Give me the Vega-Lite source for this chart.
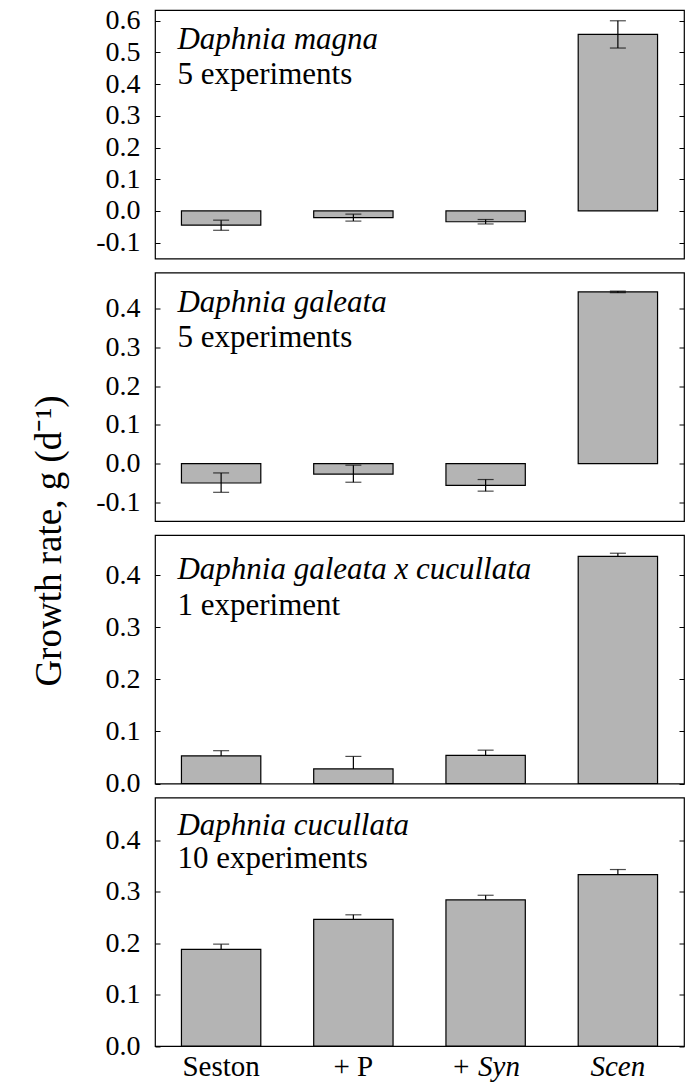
{
  "$schema": "https://vega.github.io/schema/vega-lite/v6.json",
  "padding": {"left": 29, "top": 6, "right": 5, "bottom": 5},
  "bounds": "flush",
  "spacing": 13.5,
  "config": {
    "font": "Liberation Serif",
    "view": {"stroke": "black", "strokeWidth": 1.2},
    "axis": {"labelFont": "Liberation Serif", "labelFontWeight": "normal", "titleFont": "Liberation Serif", "labelColor": "black", "tickColor": "black", "titleColor": "black"},
    "text": {"color": "black", "font": "Liberation Serif", "fontWeight": "normal"}
  },
  "datasets": {
    "bars": [
      {"panel": "magna", "treatment": "Seston", "g": -0.045, "lo": -0.061, "hi": -0.029},
      {"panel": "magna", "treatment": "+ P", "g": -0.021, "lo": -0.032, "hi": -0.010},
      {"panel": "magna", "treatment": "+ Syn", "g": -0.034, "lo": -0.041, "hi": -0.027},
      {"panel": "magna", "treatment": "Scen", "g": 0.557, "lo": 0.514, "hi": 0.600},
      {"panel": "galeata", "treatment": "Seston", "g": -0.050, "lo": -0.074, "hi": -0.024},
      {"panel": "galeata", "treatment": "+ P", "g": -0.027, "lo": -0.048, "hi": -0.004},
      {"panel": "galeata", "treatment": "+ Syn", "g": -0.056, "lo": -0.071, "hi": -0.041},
      {"panel": "galeata", "treatment": "Scen", "g": 0.443, "lo": 0.441, "hi": 0.445},
      {"panel": "hybrid", "treatment": "Seston", "g": 0.053, "lo": 0.043, "hi": 0.063},
      {"panel": "hybrid", "treatment": "+ P", "g": 0.028, "lo": 0.004, "hi": 0.052},
      {"panel": "hybrid", "treatment": "+ Syn", "g": 0.054, "lo": 0.044, "hi": 0.064},
      {"panel": "hybrid", "treatment": "Scen", "g": 0.436, "lo": 0.430, "hi": 0.442},
      {"panel": "cucullata", "treatment": "Seston", "g": 0.188, "lo": 0.178, "hi": 0.198},
      {"panel": "cucullata", "treatment": "+ P", "g": 0.246, "lo": 0.237, "hi": 0.255},
      {"panel": "cucullata", "treatment": "+ Syn", "g": 0.284, "lo": 0.275, "hi": 0.293},
      {"panel": "cucullata", "treatment": "Scen", "g": 0.333, "lo": 0.323, "hi": 0.343}
    ],
    "notes": [
      {"panel": "magna", "species": "Daphnia magna", "count": "5 experiments"},
      {"panel": "galeata", "species": "Daphnia galeata", "count": "5 experiments"},
      {"panel": "hybrid", "species": "Daphnia galeata x cucullata", "count": "1 experiment"},
      {"panel": "cucullata", "species": "Daphnia cucullata", "count": "10 experiments"}
    ]
  },
  "vconcat": [
    {
      "width": 529, "height": 248.5,
      "resolve": {"axis": {"y": "independent"}},
      "layer": [
        {
          "data": {"name": "bars"},
          "transform": [{"filter": "datum.panel == 'magna'"}],
          "mark": {"type": "bar", "fill": "#b4b4b4", "stroke": "black", "strokeWidth": 1.2},
          "encoding": {
            "x": {"field": "treatment", "type": "nominal", "sort": ["Seston", "+ P", "+ Syn", "Scen"], "scale": {"paddingInner": 0.4, "paddingOuter": 0.2}, "axis": null},
            "y": {"field": "g", "type": "quantitative", "scale": {"domain": [-0.15, 0.634], "nice": false, "zero": false},
              "axis": {"values": [-0.1, 0, 0.1, 0.2, 0.3, 0.4, 0.5, 0.6], "labelExpr": "replace(format(datum.value, '.1f'), '−', '-')", "tickSize": -5, "labelPadding": 20, "domain": false, "grid": false, "title": null, "labelFontSize": 28}}
          }
        },
        {
          "mark": {"type": "rule", "color": "black", "strokeWidth": 1.2},
          "encoding": {"y": {"datum": 0, "type": "quantitative", "axis": null}}
        },
        {
          "data": {"name": "bars"},
          "transform": [{"filter": "datum.panel == 'magna'"}],
          "mark": {"type": "rule", "color": "black", "strokeWidth": 1.2},
          "encoding": {
            "x": {"field": "treatment", "type": "nominal", "sort": ["Seston", "+ P", "+ Syn", "Scen"], "axis": null},
            "y": {"field": "lo", "type": "quantitative", "axis": {"orient": "right", "values": [-0.1, 0, 0.1, 0.2, 0.3, 0.4, 0.5, 0.6], "labels": false, "tickSize": -5, "domain": false, "grid": false, "title": null}},
            "y2": {"field": "hi"}
          }
        },
        {
          "data": {"name": "bars"},
          "transform": [{"filter": "datum.panel == 'magna'"}],
          "mark": {"type": "tick", "color": "black", "size": 16, "thickness": 1.2},
          "encoding": {
            "x": {"field": "treatment", "type": "nominal", "sort": ["Seston", "+ P", "+ Syn", "Scen"], "axis": null},
            "y": {"field": "hi", "type": "quantitative", "axis": null}
          }
        },
        {
          "data": {"name": "bars"},
          "transform": [{"filter": "datum.panel == 'magna'"}],
          "mark": {"type": "tick", "color": "black", "size": 16, "thickness": 1.2},
          "encoding": {
            "x": {"field": "treatment", "type": "nominal", "sort": ["Seston", "+ P", "+ Syn", "Scen"], "axis": null},
            "y": {"field": "lo", "type": "quantitative", "axis": null}
          }
        },
        {
          "data": {"name": "notes"},
          "transform": [{"filter": "datum.panel == 'magna'"}],
          "mark": {"type": "text", "align": "left", "baseline": "alphabetic", "fontSize": 31, "fontStyle": "italic", "dx": -4},
          "encoding": {
            "x": {"datum": "Seston", "type": "nominal", "bandPosition": 0, "axis": null},
            "y": {"datum": 0.51, "type": "quantitative", "axis": null},
            "text": {"field": "species"}
          }
        },
        {
          "data": {"name": "notes"},
          "transform": [{"filter": "datum.panel == 'magna'"}],
          "mark": {"type": "text", "align": "left", "baseline": "alphabetic", "fontSize": 31, "dx": -4},
          "encoding": {
            "x": {"datum": "Seston", "type": "nominal", "bandPosition": 0, "axis": null},
            "y": {"datum": 0.40, "type": "quantitative", "axis": null},
            "text": {"field": "count"}
          }
        }
      ]
    },
    {
      "width": 529, "height": 248.5,
      "resolve": {"axis": {"y": "independent"}},
      "layer": [
        {
          "data": {"name": "bars"},
          "transform": [{"filter": "datum.panel == 'galeata'"}],
          "mark": {"type": "bar", "fill": "#b4b4b4", "stroke": "black", "strokeWidth": 1.2},
          "encoding": {
            "x": {"field": "treatment", "type": "nominal", "sort": ["Seston", "+ P", "+ Syn", "Scen"], "scale": {"paddingInner": 0.4, "paddingOuter": 0.2}, "axis": null},
            "y": {"field": "g", "type": "quantitative", "scale": {"domain": [-0.148, 0.493], "nice": false, "zero": false},
              "axis": {"values": [-0.1, 0, 0.1, 0.2, 0.3, 0.4], "labelExpr": "replace(format(datum.value, '.1f'), '−', '-')", "tickSize": -5, "labelPadding": 20, "domain": false, "grid": false, "labelFontSize": 28,
                "title": "Growth rate, g (d⁻¹)", "titleFontSize": 37, "titleFontWeight": "normal", "titleAngle": -90, "titleX": -95, "titleY": 268, "titleAlign": "center", "titleBaseline": "alphabetic"}}
          }
        },
        {
          "mark": {"type": "rule", "color": "black", "strokeWidth": 1.2},
          "encoding": {"y": {"datum": 0, "type": "quantitative", "axis": null}}
        },
        {
          "data": {"name": "bars"},
          "transform": [{"filter": "datum.panel == 'galeata'"}],
          "mark": {"type": "rule", "color": "black", "strokeWidth": 1.2},
          "encoding": {
            "x": {"field": "treatment", "type": "nominal", "sort": ["Seston", "+ P", "+ Syn", "Scen"], "axis": null},
            "y": {"field": "lo", "type": "quantitative", "axis": {"orient": "right", "values": [-0.1, 0, 0.1, 0.2, 0.3, 0.4], "labels": false, "tickSize": -5, "domain": false, "grid": false, "title": null}},
            "y2": {"field": "hi"}
          }
        },
        {
          "data": {"name": "bars"},
          "transform": [{"filter": "datum.panel == 'galeata'"}],
          "mark": {"type": "tick", "color": "black", "size": 16, "thickness": 1.2},
          "encoding": {
            "x": {"field": "treatment", "type": "nominal", "sort": ["Seston", "+ P", "+ Syn", "Scen"], "axis": null},
            "y": {"field": "hi", "type": "quantitative", "axis": null}
          }
        },
        {
          "data": {"name": "bars"},
          "transform": [{"filter": "datum.panel == 'galeata'"}],
          "mark": {"type": "tick", "color": "black", "size": 16, "thickness": 1.2},
          "encoding": {
            "x": {"field": "treatment", "type": "nominal", "sort": ["Seston", "+ P", "+ Syn", "Scen"], "axis": null},
            "y": {"field": "lo", "type": "quantitative", "axis": null}
          }
        },
        {
          "data": {"name": "notes"},
          "transform": [{"filter": "datum.panel == 'galeata'"}],
          "mark": {"type": "text", "align": "left", "baseline": "alphabetic", "fontSize": 31, "fontStyle": "italic", "dx": -4},
          "encoding": {
            "x": {"datum": "Seston", "type": "nominal", "bandPosition": 0, "axis": null},
            "y": {"datum": 0.392, "type": "quantitative", "axis": null},
            "text": {"field": "species"}
          }
        },
        {
          "data": {"name": "notes"},
          "transform": [{"filter": "datum.panel == 'galeata'"}],
          "mark": {"type": "text", "align": "left", "baseline": "alphabetic", "fontSize": 31, "dx": -4},
          "encoding": {
            "x": {"datum": "Seston", "type": "nominal", "bandPosition": 0, "axis": null},
            "y": {"datum": 0.30, "type": "quantitative", "axis": null},
            "text": {"field": "count"}
          }
        }
      ]
    },
    {
      "width": 529, "height": 248.5,
      "resolve": {"axis": {"y": "independent"}},
      "layer": [
        {
          "data": {"name": "bars"},
          "transform": [{"filter": "datum.panel == 'hybrid'"}],
          "mark": {"type": "rule", "color": "black", "strokeWidth": 1.2},
          "encoding": {
            "x": {"field": "treatment", "type": "nominal", "sort": ["Seston", "+ P", "+ Syn", "Scen"], "scale": {"paddingInner": 0.4, "paddingOuter": 0.2}, "axis": null},
            "y": {"field": "lo", "type": "quantitative", "scale": {"domain": [0, 0.477], "nice": false, "zero": false},
              "axis": {"values": [0, 0.1, 0.2, 0.3, 0.4], "labelExpr": "replace(format(datum.value, '.1f'), '−', '-')", "tickSize": -5, "labelPadding": 20, "domain": false, "grid": false, "title": null, "labelFontSize": 28}},
            "y2": {"field": "hi"}
          }
        },
        {
          "data": {"name": "bars"},
          "transform": [{"filter": "datum.panel == 'hybrid'"}],
          "mark": {"type": "tick", "color": "black", "size": 16, "thickness": 1.2},
          "encoding": {
            "x": {"field": "treatment", "type": "nominal", "sort": ["Seston", "+ P", "+ Syn", "Scen"], "axis": null},
            "y": {"field": "hi", "type": "quantitative", "axis": {"orient": "right", "values": [0, 0.1, 0.2, 0.3, 0.4], "labels": false, "tickSize": -5, "domain": false, "grid": false, "title": null}}
          }
        },
        {
          "data": {"name": "bars"},
          "transform": [{"filter": "datum.panel == 'hybrid'"}],
          "mark": {"type": "bar", "fill": "#b4b4b4", "stroke": "black", "strokeWidth": 1.2},
          "encoding": {
            "x": {"field": "treatment", "type": "nominal", "sort": ["Seston", "+ P", "+ Syn", "Scen"], "axis": null},
            "y": {"field": "g", "type": "quantitative", "axis": null}
          }
        },
        {
          "data": {"name": "notes"},
          "transform": [{"filter": "datum.panel == 'hybrid'"}],
          "mark": {"type": "text", "align": "left", "baseline": "alphabetic", "fontSize": 31, "fontStyle": "italic", "dx": -4},
          "encoding": {
            "x": {"datum": "Seston", "type": "nominal", "bandPosition": 0, "axis": null},
            "y": {"datum": 0.392, "type": "quantitative", "axis": null},
            "text": {"field": "species"}
          }
        },
        {
          "data": {"name": "notes"},
          "transform": [{"filter": "datum.panel == 'hybrid'"}],
          "mark": {"type": "text", "align": "left", "baseline": "alphabetic", "fontSize": 31, "dx": -4},
          "encoding": {
            "x": {"datum": "Seston", "type": "nominal", "bandPosition": 0, "axis": null},
            "y": {"datum": 0.323, "type": "quantitative", "axis": null},
            "text": {"field": "count"}
          }
        }
      ]
    },
    {
      "width": 529, "height": 248.5,
      "resolve": {"axis": {"y": "independent"}},
      "layer": [
        {
          "data": {"name": "bars"},
          "transform": [{"filter": "datum.panel == 'cucullata'"}],
          "mark": {"type": "rule", "color": "black", "strokeWidth": 1.2},
          "encoding": {
            "x": {"field": "treatment", "type": "nominal", "sort": ["Seston", "+ P", "+ Syn", "Scen"], "scale": {"paddingInner": 0.4, "paddingOuter": 0.2},
              "axis": {"title": null, "ticks": false, "domain": false, "labelAngle": 0, "labelFontSize": 29, "labelPadding": 6,
                "labelFontStyle": {"condition": {"test": "datum.value == 'Scen' || datum.value == '+ Syn'", "value": "italic"}, "value": "normal"}}},
            "y": {"field": "lo", "type": "quantitative", "scale": {"domain": [0, 0.483], "nice": false, "zero": false},
              "axis": {"values": [0, 0.1, 0.2, 0.3, 0.4], "labelExpr": "replace(format(datum.value, '.1f'), '−', '-')", "tickSize": -5, "labelPadding": 20, "domain": false, "grid": false, "title": null, "labelFontSize": 28}},
            "y2": {"field": "hi"}
          }
        },
        {
          "data": {"name": "bars"},
          "transform": [{"filter": "datum.panel == 'cucullata'"}],
          "mark": {"type": "tick", "color": "black", "size": 16, "thickness": 1.2},
          "encoding": {
            "x": {"field": "treatment", "type": "nominal", "sort": ["Seston", "+ P", "+ Syn", "Scen"]},
            "y": {"field": "hi", "type": "quantitative", "axis": {"orient": "right", "values": [0, 0.1, 0.2, 0.3, 0.4], "labels": false, "tickSize": -5, "domain": false, "grid": false, "title": null}}
          }
        },
        {
          "data": {"name": "bars"},
          "transform": [{"filter": "datum.panel == 'cucullata'"}],
          "mark": {"type": "bar", "fill": "#b4b4b4", "stroke": "black", "strokeWidth": 1.2},
          "encoding": {
            "x": {"field": "treatment", "type": "nominal", "sort": ["Seston", "+ P", "+ Syn", "Scen"]},
            "y": {"field": "g", "type": "quantitative", "axis": null}
          }
        },
        {
          "data": {"name": "notes"},
          "transform": [{"filter": "datum.panel == 'cucullata'"}],
          "mark": {"type": "text", "align": "left", "baseline": "alphabetic", "fontSize": 31, "fontStyle": "italic", "dx": -4},
          "encoding": {
            "x": {"datum": "Seston", "type": "nominal", "bandPosition": 0},
            "y": {"datum": 0.41, "type": "quantitative", "axis": null},
            "text": {"field": "species"}
          }
        },
        {
          "data": {"name": "notes"},
          "transform": [{"filter": "datum.panel == 'cucullata'"}],
          "mark": {"type": "text", "align": "left", "baseline": "alphabetic", "fontSize": 31, "dx": -4},
          "encoding": {
            "x": {"datum": "Seston", "type": "nominal", "bandPosition": 0},
            "y": {"datum": 0.346, "type": "quantitative", "axis": null},
            "text": {"field": "count"}
          }
        }
      ]
    }
  ]
}
